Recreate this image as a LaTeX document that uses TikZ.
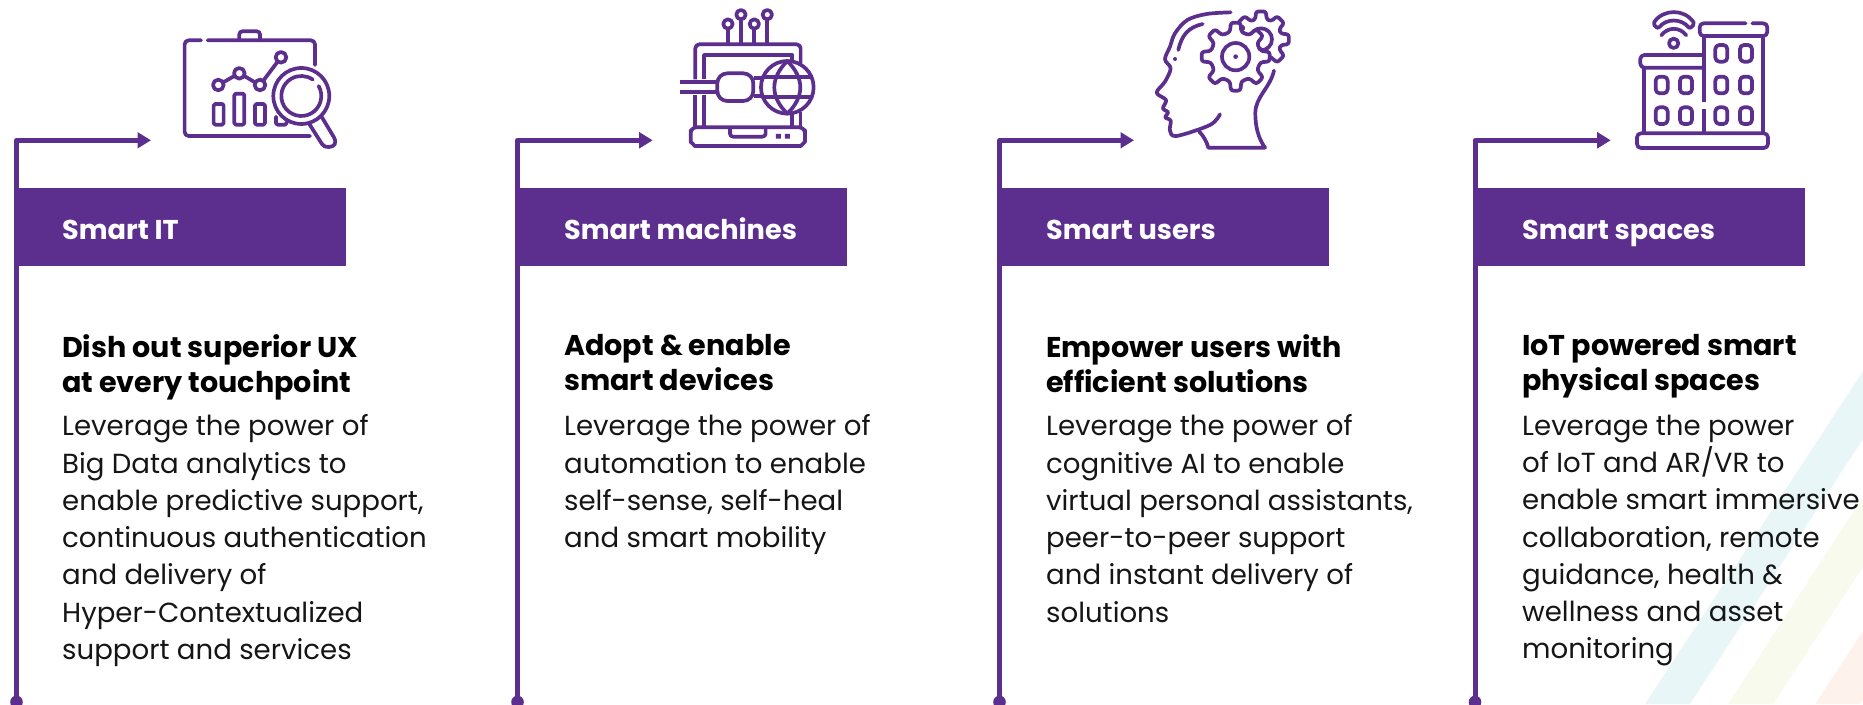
\documentclass[tikz,border=0pt]{standalone}
\usepackage{fontspec}
\setmainfont{Poppins}
\usetikzlibrary{arrows.meta}
\definecolor{brand}{HTML}{5C2E8E}
\definecolor{ink}{HTML}{151515}
\definecolor{stripeblue}{HTML}{E9F6F8}
\definecolor{stripegreen}{HTML}{F8FAEE}
\definecolor{stripeorange}{HTML}{FDF3EC}
\tikzset{
  rail/.style={draw=brand,line width=5pt,line join=round},
  raildot/.style={circle,fill=brand,inner sep=0pt,minimum size=12.6pt},
  bar/.style={fill=brand,inner sep=0pt,minimum height=78pt,anchor=north west},
  bartext/.style={text=white,inner sep=0pt,anchor=base west,font=\fontsize{27.2}{30}\selectfont\bfseries},
  headtext/.style={text=black,inner sep=0pt,anchor=north west,align=left,font=\fontsize{28.6}{34.6}\selectfont\bfseries,execute at begin node={\rule{0pt}{30pt}}},
  bodytext/.style={text=ink,inner sep=0pt,anchor=north west,align=left,font=\fontsize{27.6}{37.3}\selectfont,execute at begin node={\rule{0pt}{30pt}}},
  ico/.style={draw=brand,line width=3.7pt,line cap=round,line join=round},
  icox/.style={shift={(#1,0)},x=0.3333pt,y=-0.3333pt},
}
\newcommand{\smartcol}[6]{%
  % id, line x, tip x, bar left, bar width, text x
  \node[raildot] (d#1) at (#2,702) {};
  \coordinate (t#1) at (#3,140.3);
  \draw[rail,-{Triangle[length=13.5pt,width=15.5pt]}] (d#1.center) |- (t#1);
  \node[bar,minimum width=#5pt] (b#1) at (#4,188) {};
}
\begin{document}
\begin{tikzpicture}[x=1pt,y=-1pt]
\useasboundingbox (0,0) rectangle (1863,704);
\begin{scope}
\clip (0,0) rectangle (1863,704);
\fill[stripeblue] (1645,704) -- (1863,371) -- (1863,439) -- (1690,704) -- cycle;
\fill[stripegreen] (1728,704) -- (1863,497) -- (1863,567) -- (1773,704) -- cycle;
\fill[stripeorange] (1815,704) -- (1863,631) -- (1863,700) -- (1860,704) -- cycle;
\end{scope}

\smartcol{1}{16.5}{151}{14}{332}{62}
\smartcol{2}{517.5}{652.7}{516}{331}{564}
\smartcol{3}{999.5}{1134}{998}{331}{1046}
\smartcol{4}{1475}{1610.7}{1474}{331}{1522}

\node[bartext] (bt1) at (62,239) {Smart IT};
\node[bartext] (bt2) at (564,239) {Smart machines};
\node[bartext] (bt3) at (1046,239) {Smart users};
\node[bartext] (bt4) at (1522,239) {Smart spaces};

\node[headtext] (h1) at (62,334.5) {Dish out superior UX\\at every touchpoint};
\node[headtext] (h2) at (564,334.5) {Adopt \& enable\\smart devices};
\node[headtext] (h3) at (1046,334.5) {Empower users with\\efficient solutions};
\node[headtext] (h4) at (1522,334.5) {IoT powered smart\\physical spaces};

\node[bodytext] (p1) at (62,414.5) {Leverage the power of\\Big Data analytics to\\enable predictive support,\\continuous authentication\\and delivery of\\Hyper-Contextualized\\support and services};
\node[bodytext] (p2) at (564,414.5) {Leverage the power of\\automation to enable\\self-sense, self-heal\\and smart mobility};
\node[bodytext] (p3) at (1046,414.5) {Leverage the power of\\cognitive AI to enable\\virtual personal assistants,\\peer-to-peer support\\and instant delivery of\\solutions};
\node[bodytext] (p4) at (1522,414.5) {Leverage the power\\of IoT and AR/VR to\\enable smart immersive\\collaboration, remote\\guidance, health \&\\wellness and asset\\monitoring};

% icon 1
\begin{scope}[icox=0]
\draw[ico,rounded corners=4pt] (603,121) -- (554,121) -- (554,408) -- (930,408);
\draw[ico,rounded corners=4pt] (623,121) -- (945,121) -- (945,195);
\draw[ico,rounded corners=3pt] (718,121) -- (718,94) -- (780,94) -- (780,121);
\draw[ico] (655,255) circle (16) (718,220) circle (16) (780,255) circle (16) (843,172) circle (16);
\draw[ico] (670,247) -- (703,228) (733,228) -- (765,247) (790,242) -- (833,185);
\draw[ico,rounded corners=1.5pt] (641,312) rectangle (671,374) (703,281) rectangle (733,374) (765,312) rectangle (795,374);
\draw[ico,rounded corners=1.5pt] (828,350) -- (828,374) -- (860,374) -- (860,366);
\draw[ico] (904,288) circle (84);
\draw[ico] (956,258) arc (-30:305:60);
\draw[ico] (928,372) -- (966,432);
\draw[ico] (966,352) -- (1002,412) .. controls (1012,432) and (1002,440) .. (987,441) .. controls (975,441) and (970,438) .. (966,432);
\end{scope}

% icon 2
\begin{scope}[icox=500]
\draw[ico] (684,72) circle (14) (723,44) circle (14) (763,72) circle (14) (802,44) circle (14);
\draw[ico,line cap=butt] (684,86) -- (684,130) (723,58) -- (723,130) (763,86) -- (763,130) (802,58) -- (802,130);
\draw[ico,line cap=butt,rounded corners=4pt] (586,238) -- (586,133) -- (902,133) -- (902,190);
\draw[ico,line cap=butt] (586,285) -- (586,380) (902,335) -- (902,380);
\draw[ico,line cap=butt] (612,238) -- (612,165) -- (877,165) -- (877,180);
\draw[ico,line cap=butt] (612,285) -- (612,380) (877,342) -- (877,380);
\draw[ico,line cap=butt] (540,247) -- (650,247) (540,275) -- (650,275);
\draw[ico,rounded corners=10pt] (652,220) rectangle (760,303);
\draw[ico,line cap=butt] (762,235) -- (785,235) (762,288) -- (785,288);
\draw[ico] (862,262) circle (79);
\draw[ico] (862,183) .. controls (810,235) and (810,290) .. (862,341) .. controls (914,290) and (914,235) .. (862,183);
\draw[ico,line cap=butt] (785,232) -- (940,232) (785,290) -- (940,290);
\draw[ico,rounded corners=6pt] (572,382) -- (572,408) .. controls (572,425) and (585,438) .. (602,438) -- (885,438) .. controls (902,438) and (915,425) .. (915,408) -- (915,382) -- cycle;
\draw[ico,rounded corners=3pt] (690,384) -- (690,410) -- (797,410) -- (797,384);
\fill[brand] (828,402) rectangle (843,416) (855,402) rectangle (870,416);
\end{scope}

% icon 3
\begin{scope}[icox=980]
\draw[ico] plot[smooth,tension=0.55] coordinates {(752,37) (680,42) (622,60) (585,100) (570,140) (555,178) (572,205) (555,245) (530,278) (558,300) (549,325) (564,337) (556,352) (572,362) (570,392) (590,408) (690,375) (720,343)};
\draw[ico] (668,72) .. controls (625,82) and (605,105) .. (595,150);
\draw[ico] (658,395) .. controls (672,410) and (680,425) .. (685,443) -- (855,443) .. controls (835,415) and (826,380) .. (826,340) .. controls (826,290) and (870,265) .. (882,212);
\fill[brand] (585,177) circle (6);
% back gear
\begin{scope}[shift={(843,118)}]
\draw[ico,rounded corners=2.5pt] (-151:62) \foreach \a in {-135,-90,-45,0,45} { -- (\a-16:62) -- (\a-10:85) -- (\a+10:85) -- (\a+16:62) };
\draw[ico] (0,0) circle (33);
\end{scope}
% front gear
\begin{scope}[shift={(767,170)}]
\draw[ico,fill=white,rounded corners=2.5pt] (-13:76) \foreach \a in {0,45,...,315} { -- (\a-13:76) -- (\a-8:103) -- (\a+8:103) -- (\a+13:76) } -- cycle;
\draw[ico] (0,0) circle (41);
\fill[brand] (0,0) circle (7);
\end{scope}
\end{scope}

% icon 4
\begin{scope}[icox=1463]
\draw[ico] (632,130) circle (14);
\draw[ico,rounded corners=2pt] (570,72) .. controls (600,26) and (665,26) .. (695,72) -- (680,86) .. controls (655,55) and (610,55) .. (585,86) -- cycle;
\draw[ico] (595,106) .. controls (615,80) and (650,80) .. (670,106);
\draw[ico,rounded corners=4pt] (848,70) -- (710,70) -- (710,108) -- (913,108) -- (913,70) -- (868,70);
\draw[ico,rounded corners=4pt] (722,165) -- (532,165) -- (532,203) -- (722,203);
\draw[ico,line cap=butt] (544,203) -- (544,400) (901,108) -- (901,400) (722,108) -- (722,307) (722,328) -- (722,400);
\draw[ico,rounded corners=4pt] (522,444) -- (522,400) -- (915,400) -- (915,444) -- cycle;
\foreach \c/\r in {757/135,831/135,757/230,831/230,757/322,831/322,578/230,651/230,578/322,651/322}
  \draw[ico,rounded corners=4pt] (\c,\r) rectangle ++(36,50);
\end{scope}
\end{tikzpicture}
\end{document}
